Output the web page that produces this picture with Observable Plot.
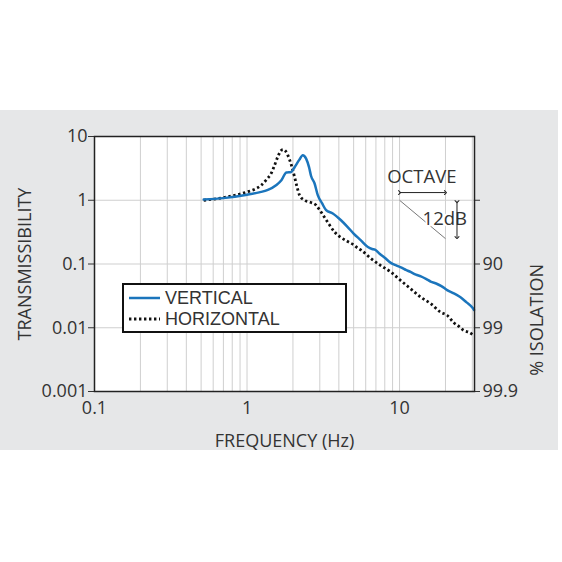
<!DOCTYPE html>
<html>
<head>
<meta charset="utf-8">
<script src="https://cdn.jsdelivr.net/npm/d3@7"></script>
<script src="https://cdn.jsdelivr.net/npm/@observablehq/plot@0.6"></script>
<style>
  html, body { margin: 0; padding: 0; background: #ffffff; }
  #wrap { position: relative; padding-top: 110px; width: 562px; }
  #chart svg { display: block; }
  #legend { position: absolute; left: 122px; top: 283px; width: 221px; height: 46px;
            border: 2px solid #111; background: #fff; font-family: "Liberation Sans", Arial, sans-serif;
            font-size: 18px; color: #333; }
  #legend .row { position: absolute; left: 0; height: 20px; width: 100%; }
  #legend .row span { position: absolute; left: 41px; top: 0; white-space: nowrap; line-height: 20px; }
  #legend svg { position: absolute; left: 5px; top: 0; }
</style>
</head>
<body>
<div id="wrap">
  <div id="chart"></div>
  <div id="legend"></div>
</div>
<script>
// ---- data ----
const seriesNames = ["VERTICAL", "HORIZONTAL"];
const seriesColors = ["#1b75bc", "#111111"];

const vFreq = [0.52, 0.7, 1.0, 1.2, 1.37, 1.55, 1.68, 1.81, 1.95, 2.05, 2.2, 2.32, 2.44, 2.55, 2.63, 2.77, 2.91, 3.1, 3.3, 3.65, 4.13, 4.57, 5.0, 5.58, 6.2, 6.6, 6.9, 7.4, 8.0, 8.77, 9.5, 10.3, 11.0, 11.8, 12.8, 13.8, 15.0, 16.0, 17.5, 18.8, 20.5, 22.5, 25.1, 27.5, 29.9, 30.8];
const vTrans = [1.03, 1.08, 1.22, 1.33, 1.45, 1.72, 2.06, 2.72, 2.78, 3.3, 4.3, 5.1, 4.5, 3.3, 2.4, 1.85, 1.2, 0.9, 0.70, 0.62, 0.485, 0.38, 0.30, 0.235, 0.185, 0.172, 0.168, 0.145, 0.125, 0.104, 0.095, 0.088, 0.081, 0.075, 0.068, 0.064, 0.058, 0.053, 0.049, 0.045, 0.039, 0.035, 0.030, 0.025, 0.021, 0.019];

const hFreq = [0.52, 0.7, 1.0, 1.13, 1.24, 1.34, 1.44, 1.52, 1.59, 1.66, 1.72, 1.79, 1.85, 1.95, 2.05, 2.13, 2.21, 2.38, 2.6, 2.84, 3.0, 3.21, 3.45, 3.74, 4.13, 4.57, 5.0, 5.31, 5.6, 6.49, 7.5, 8.77, 10.0, 11.8, 13.8, 16.0, 18.6, 20.5, 22.7, 24.5, 26.5, 28.5, 30.8];
const hTrans = [1.0, 1.1, 1.35, 1.5, 1.72, 2.1, 2.63, 3.6, 4.78, 5.9, 6.25, 5.9, 5.09, 3.6, 2.32, 1.6, 1.2, 1.0, 0.93, 0.835, 0.7, 0.547, 0.42, 0.32, 0.26, 0.225, 0.2, 0.178, 0.165, 0.122, 0.095, 0.075, 0.057, 0.041, 0.03, 0.024, 0.0175, 0.0157, 0.012, 0.0105, 0.009, 0.0085, 0.0075];

const xTicks = [0.1, 1, 10];
const xTickLabels = ["0.1", "1", "10"];
const xGridLines = [0.2,0.3,0.4,0.5,0.6,0.7,0.8,0.9,1,2,3,4,5,6,7,8,9,10,20,30];
const yTicks = [0.001, 0.01, 0.1, 1, 10];
const yTickLabels = ["0.001", "0.01", "0.1", "1", "10"];
const isoTicks = [0.001, 0.01, 0.1, 1];
const isoLabels = ["99.9", "99", "90", ""];

// annotation values (octave / 12 dB slope)
const octave = {from: 10, to: 20, level: 1.32};
const slope = {x1: 10, y1: 1, x2: 20, y2: 0.25};
const dbArrow = {at: 23.8, top: 0.95, bottom: 0.26};

const vData = vFreq.map((f, i) => ({f, t: vTrans[i]}));
const hData = hFreq.map((f, i) => ({f, t: hTrans[i]}));
const xLab = new Map(xTicks.map((d, i) => [d, xTickLabels[i]]));
const yLab = new Map(yTicks.map((d, i) => [d, yTickLabels[i]]));
const isoLab = new Map(isoTicks.map((d, i) => [d, isoLabels[i]]));

const textColor = "#333";
const chart = Plot.plot({
  width: 558,
  height: 340,
  marginLeft: 94,
  marginRight: 84,
  marginTop: 26,
  marginBottom: 59,
  style: {background: "#e6e7e8", fontFamily: "'Open Sans', sans-serif", fontSize: "18px", color: textColor},
  x: {type: "log", domain: [0.1, 31]},
  y: {type: "log", domain: [0.001, 10]},
  marks: [
    Plot.frame({fill: "#ffffff", stroke: null}),
    Plot.gridX(xGridLines, {stroke: "#cfcfcf", strokeOpacity: 1, strokeWidth: 1}),
    Plot.gridY(yTicks, {stroke: "#cfcfcf", strokeOpacity: 1, strokeWidth: 1}),
    Plot.axisX(xTicks, {tickSize: 0, tickPadding: 10, tickFormat: d => xLab.get(d),
      label: "FREQUENCY (Hz)", labelAnchor: "center", labelArrow: "none", labelOffset: 55}),
    Plot.axisY(yTicks, {anchor: "left", tickSize: 6, tickPadding: 1,
      tickFormat: d => yLab.get(d),
      label: "TRANSMISSIBILITY", labelAnchor: "center", labelArrow: "none", labelOffset: 76}),
    Plot.axisY(isoTicks, {anchor: "right", tickSize: 5, tickPadding: 3,
      tickFormat: d => isoLab.get(d), label: null}),
    Plot.text(["% ISOLATION"], {frameAnchor: "right", rotate: -90, dx: 63, fill: textColor, fontSize: 18}),
    // slope guide
    Plot.link([slope], {x1: "x1", y1: "y1", x2: "x2", y2: "y2", stroke: "#777", strokeWidth: 1}),
    Plot.text(["12dB"], {x: [19.8], y: [0.51], fill: "#333", stroke: "white", strokeWidth: 4, fontSize: 18.5}),
    Plot.text(["OCTAVE"], {x: [14], y: [2.34], fill: "#333", fontSize: 18.5}),
    Plot.link([octave], {x1: "from", x2: "to", y1: "level", y2: "level", stroke: "#222", strokeWidth: 1,
      markerStart: "arrow", markerEnd: "arrow"}),
    Plot.link([dbArrow], {x1: "at", x2: "at", y1: "top", y2: "bottom", stroke: "#222", strokeWidth: 1,
      markerStart: "arrow", markerEnd: "arrow"}),
    // curves
    Plot.line(hData, {x: "f", y: "t", stroke: seriesColors[1], strokeWidth: 2.8, strokeDasharray: "2.4,2.6", strokeLinecap: "butt", curve: "monotone-x"}),
    Plot.line(vData, {x: "f", y: "t", stroke: seriesColors[0], strokeWidth: 2.5, curve: "monotone-x"}),
    Plot.frame({stroke: "#222", strokeWidth: 1.5})
  ]
});
document.getElementById("chart").appendChild(chart);

// legend
const legend = document.getElementById("legend");
seriesNames.forEach((name, i) => {
  const row = document.createElement("div");
  row.className = "row";
  row.style.top = (i === 0 ? 3 : 24) + "px";
  const dash = i === 0 ? "" : 'stroke-dasharray="2.4,2.6"';
  row.innerHTML = `<svg width="32" height="20"><line x1="0" x2="31" y1="10" y2="10" stroke="${seriesColors[i]}" stroke-width="${i===0?2.5:2.8}" ${dash}/></svg><span>${name}</span>`;
  legend.appendChild(row);
});
</script>
</body>
</html>
